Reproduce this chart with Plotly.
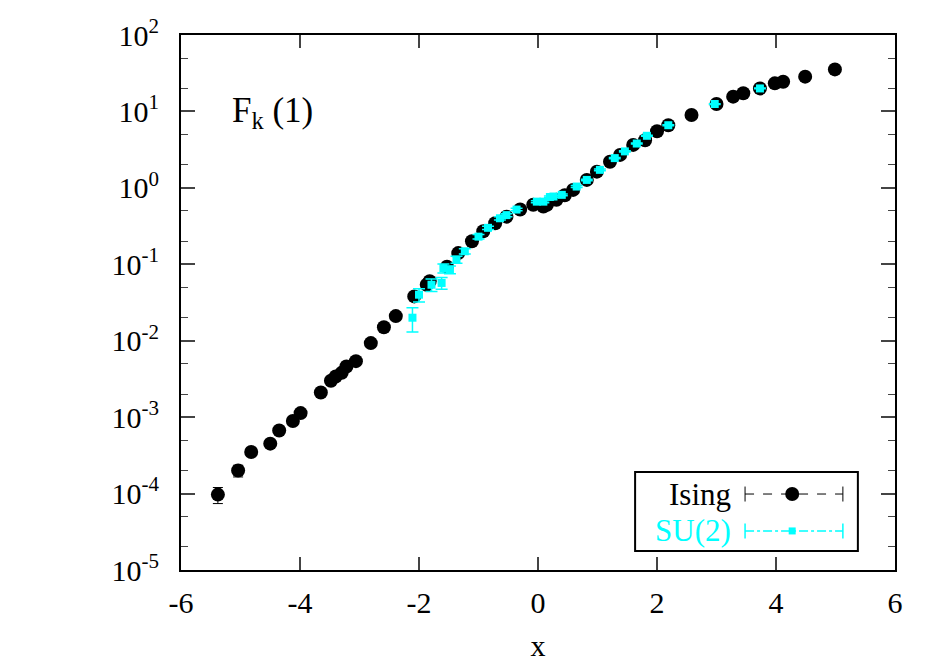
import plotly.graph_objects as go

# Ising data
ising_x = [-5.38, -5.04, -4.82, -4.50, -4.35, -4.12, -3.99, -3.65, -3.48, -3.40, -3.30, -3.22,
           -3.06, -2.81, -2.59, -2.39, -2.08, -1.87, -1.82, -1.53, -1.34, -1.11, -0.92, -0.72,
           -0.53, -0.30, -0.08, 0.09, 0.15, 0.31, 0.45, 0.59, 0.82, 0.99, 1.21, 1.38, 1.60,
           1.80, 2.00, 2.19, 2.58, 3.00, 3.28, 3.45, 3.73, 3.98, 4.12, 4.49, 4.99]
ising_y = [9.7e-5, 2.0e-4, 3.5e-4, 4.5e-4, 6.7e-4, 8.9e-4, 1.13e-3, 2.1e-3, 3.0e-3, 3.4e-3,
           3.8e-3, 4.6e-3, 5.4e-3, 9.3e-3, 1.5e-2, 2.1e-2, 0.038, 0.054, 0.060, 0.093, 0.14,
           0.20, 0.27, 0.345, 0.42, 0.52, 0.60, 0.57, 0.60, 0.70, 0.80, 0.94, 1.27, 1.63, 2.2,
           2.7, 3.65, 4.2, 5.5, 6.6, 9.0, 12.5, 15.6, 17.3, 20.0, 23.3, 24.5, 28.5, 35.5]
ising_err = [2.3e-5, 3.5e-5] + [0] * (len(ising_x) - 2)

# SU(2) data
su2_x = [-2.11, -2.00, -1.79, -1.62, -1.59, -1.48, -1.37, -1.23, -1.00, -0.84, -0.64, -0.53,
         -0.36, -0.02, 0.09, 0.20, 0.26, 0.40, 0.65, 0.82, 1.04, 1.29, 1.46, 1.66, 1.83,
         2.19, 2.97, 3.73]
su2_y = [0.020, 0.040, 0.054, 0.057, 0.089, 0.085, 0.115, 0.148, 0.23, 0.30, 0.40, 0.44,
         0.52, 0.66, 0.66, 0.76, 0.77, 0.81, 1.04, 1.27, 1.72, 2.45, 3.0, 3.8, 4.8,
         6.6, 12.5, 20.0]
su2_err = [0.007, 0.008, 0.010, 0.010, 0.012, 0.010, 0.012, 0.012, 0.015, 0.015, 0.02, 0.02,
           0.02, 0.02, 0.02, 0.02, 0.02, 0.02, 0.03, 0.03, 0.04, 0.05, 0.05, 0.06, 0.07,
           0.08, 0.15, 0.2]

xticks = [-6, -4, -2, 0, 2, 4, 6]
xtick_labels = ['-6', '-4', '-2', '0', '2', '4', '6']
yticks = [1e-5, 1e-4, 1e-3, 1e-2, 1e-1, 1, 10, 100]
ytick_labels = ['10<sup>-5</sup>', '10<sup>-4</sup>', '10<sup>-3</sup>', '10<sup>-2</sup>',
                '10<sup>-1</sup>', '10<sup>0</sup>', '10<sup>1</sup>', '10<sup>2</sup>']

cyan = '#00FFFF'
font = 'Liberation Serif'

fig = go.Figure()

fig.add_trace(go.Scatter(
    x=ising_x, y=ising_y, mode='markers', name='Ising',
    marker=dict(color='black', size=14, symbol='circle'),
    error_y=dict(type='data', array=ising_err, color='black', thickness=1, width=5),
    showlegend=False,
))

fig.add_trace(go.Scatter(
    x=su2_x, y=su2_y, mode='markers', name='SU(2)',
    marker=dict(color=cyan, size=8, symbol='square'),
    error_y=dict(type='data', array=su2_err, color=cyan, thickness=1.5, width=6),
    showlegend=False,
))

# F_k (1) label
fig.add_annotation(x=0.068, y=0.856, xref='paper', yref='paper', showarrow=False,
                   text='F<sub>k</sub> (1)', font=dict(family=font, size=35, color='black'),
                   xanchor='left', yanchor='middle')

# hand-made gnuplot style key
shapes = [
    dict(type='rect', xref='paper', yref='paper', x0=0.636, x1=0.948, y0=0.0355, y1=0.183,
         line=dict(color='black', width=2), fillcolor='white', layer='above'),
    dict(type='line', xref='paper', yref='paper', x0=0.790, x1=0.927, y0=0.142, y1=0.142,
         line=dict(color='black', width=1, dash='dash')),
    dict(type='line', xref='paper', yref='paper', x0=0.790, x1=0.790, y0=0.128, y1=0.156,
         line=dict(color='black', width=1)),
    dict(type='line', xref='paper', yref='paper', x0=0.927, x1=0.927, y0=0.128, y1=0.156,
         line=dict(color='black', width=1)),
    dict(type='circle', xref='paper', yref='paper', xsizemode='pixel', ysizemode='pixel',
         xanchor=0.856, yanchor=0.142, x0=-7, x1=7, y0=-7, y1=7,
         fillcolor='black', line=dict(color='black', width=0)),
    dict(type='line', xref='paper', yref='paper', x0=0.790, x1=0.927, y0=0.073, y1=0.073,
         line=dict(color=cyan, width=1.5, dash='dashdot')),
    dict(type='line', xref='paper', yref='paper', x0=0.790, x1=0.790, y0=0.059, y1=0.087,
         line=dict(color=cyan, width=1.5)),
    dict(type='line', xref='paper', yref='paper', x0=0.927, x1=0.927, y0=0.059, y1=0.087,
         line=dict(color=cyan, width=1.5)),
    dict(type='rect', xref='paper', yref='paper', xsizemode='pixel', ysizemode='pixel',
         xanchor=0.856, yanchor=0.073, x0=-3.5, x1=3.5, y0=-3.5, y1=3.5,
         fillcolor=cyan, line=dict(color=cyan, width=0)),
]
fig.add_annotation(x=0.773, y=0.142, xref='paper', yref='paper', showarrow=False,
                   text='Ising', xanchor='right', yanchor='middle',
                   font=dict(family=font, size=31, color='black'))
fig.add_annotation(x=0.773, y=0.073, xref='paper', yref='paper', showarrow=False,
                   text='SU(2)', xanchor='right', yanchor='middle',
                   font=dict(family=font, size=31, color=cyan))

fig.update_layout(
    width=939, height=654,
    margin=dict(l=173, r=52, t=27, b=92),
    paper_bgcolor='white', plot_bgcolor='white',
    font=dict(family=font, size=30, color='black'),
    shapes=shapes,
    xaxis=dict(
        range=[-6, 6], tickvals=xticks, ticktext=xtick_labels, showgrid=False, zeroline=False,
        ticks='inside', ticklen=13, tickwidth=1.5, mirror='ticks', ticklabelstandoff=5,
        showline=True, linecolor='black', linewidth=2, automargin=False,
        title=dict(text='x', font=dict(family=font, size=30), standoff=20),
    ),
    yaxis=dict(
        type='log', range=[-5, 2], tickvals=yticks, ticktext=ytick_labels,
        showgrid=False, zeroline=False, ticks='inside', ticklen=14, tickwidth=1.5,
        mirror='ticks', showline=True, linecolor='black', linewidth=2, ticklabelstandoff=14,
        automargin=False,
        minor=dict(ticks='inside', ticklen=7, tickwidth=1, showgrid=False),
    ),
)

fig.write_html("out.html")
